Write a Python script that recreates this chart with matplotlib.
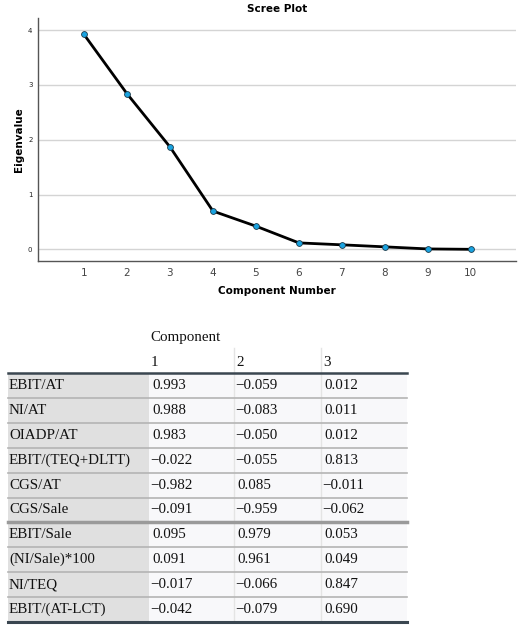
import matplotlib
matplotlib.use('Agg')
import matplotlib.pyplot as plt
from matplotlib.patches import Rectangle

# ── data ─────────────────────────────────────
components = [1, 2, 3, 4, 5, 6, 7, 8, 9, 10]
eigenvalues = [3.92, 2.84, 1.87, 0.70, 0.425, 0.12, 0.085, 0.048, 0.01, 0.003]

row_labels = ['EBIT/AT', 'NI/AT', 'OIADP/AT', 'EBIT/(TEQ+DLTT)', 'CGS/AT',
              'CGS/Sale', 'EBIT/Sale', '(NI/Sale)*100', 'NI/TEQ', 'EBIT/(AT-LCT)']
comp1 = [0.993, 0.988, 0.983, -0.022, -0.982, -0.091, 0.095, 0.091, -0.017, -0.042]
comp2 = [-0.059, -0.083, -0.050, -0.055, 0.085, -0.959, 0.979, 0.961, -0.066, -0.079]
comp3 = [0.012, 0.011, 0.012, 0.813, -0.011, -0.062, 0.053, 0.049, 0.847, 0.690]
col_headers = ['1', '2', '3']

W, H = 529, 629
fig = plt.figure(figsize=(W / 100, H / 100), dpi=100)

# ── scree plot ───────────────────────────────
ax = fig.add_axes([38 / W, 1 - 261 / H, (516 - 38) / W, (261 - 18) / H])
ax.plot(components, eigenvalues, color='black', linewidth=2, zorder=3,
        marker='o', markersize=4.2, markerfacecolor='#1aa3e0',
        markeredgecolor='#1b3a4a', markeredgewidth=0.6)
ax.set_xlim(-0.07, 11.05)
ax.set_ylim(-0.21, 4.22)
ax.set_xticks(components)
ax.set_yticks([0, 1, 2, 3, 4])
ax.yaxis.grid(True, color='#d4d4d4', linewidth=1)
ax.set_axisbelow(True)
ax.tick_params(axis='x', length=0, labelsize=7.5, labelcolor='#444444', pad=5)
ax.tick_params(axis='y', length=0, labelsize=5, labelcolor='#222222', pad=4)
for s in ['top', 'right']:
    ax.spines[s].set_visible(False)
for s in ['left', 'bottom']:
    ax.spines[s].set_color('#555555')
    ax.spines[s].set_linewidth(1)
ax.set_title('Scree Plot', fontsize=7.5, fontweight='bold', pad=4)
ax.set_xlabel('Component Number', fontsize=7.5, fontweight='bold', labelpad=6)
ax.set_ylabel('Eigenvalue', fontsize=7.5, fontweight='bold', labelpad=3)

# ── component matrix table ───────────────────
tx = fig.add_axes([0, 0, 1, 1])
tx.set_xlim(0, W)
tx.set_ylim(H, 0)
tx.axis('off')

serif = ['Liberation Serif', 'DejaVu Serif']
fs = 10.8
x_left, x_lab_end = 8, 149
col_edges = [149, 234, 321, 407]
top, row_h = 373, 24.9
n = len(row_labels)
bottom = top + n * row_h

# backgrounds
tx.add_patch(Rectangle((x_left, top), x_lab_end - x_left, n * row_h,
                       facecolor='#e0e0e0', edgecolor='none'))
tx.add_patch(Rectangle((x_lab_end, top), col_edges[-1] - x_lab_end, n * row_h,
                       facecolor='#f8f8fa', edgecolor='none'))

# light column separators
for cx in col_edges[1:3]:
    tx.plot([cx, cx], [348, bottom], color='#e4e4e4', linewidth=1)

# row lines
for i in range(1, n):
    y = top + i * row_h
    lw, c = (2.5, '#9a9a9a') if i == 6 else (1.2, '#b4b4b4')
    tx.plot([x_left, col_edges[-1]], [y, y], color=c, linewidth=lw)
tx.plot([x_left, col_edges[-1]], [top, top], color='#3a4650', linewidth=1.8)
tx.plot([x_left, col_edges[-1]], [bottom, bottom], color='#3a4650', linewidth=2.2)

# header texts
tx.text(col_edges[0] + 1, 338, 'Component', fontsize=fs, family=serif,
        ha='left', va='center', color='#111111')
for j, h in enumerate(col_headers):
    tx.text(col_edges[j] + 2, 362, h, fontsize=fs, family=serif,
            ha='left', va='center', color='#111111')


def fmt(v):
    s = f'{v:.3f}'
    return s.replace('-', '\u2212')


for i, lab in enumerate(row_labels):
    yc = top + (i + 0.5) * row_h
    tx.text(x_left + 1, yc, lab, fontsize=fs, family=serif, ha='left',
            va='center', color='#111111')
    for j, col in enumerate([comp1, comp2, comp3]):
        v = col[i]
        off = 1 if v < 0 else 3
        tx.text(col_edges[j] + off, yc, fmt(v), fontsize=fs, family=serif,
                ha='left', va='center', color='#111111')

fig.savefig('out.png', dpi=100)
